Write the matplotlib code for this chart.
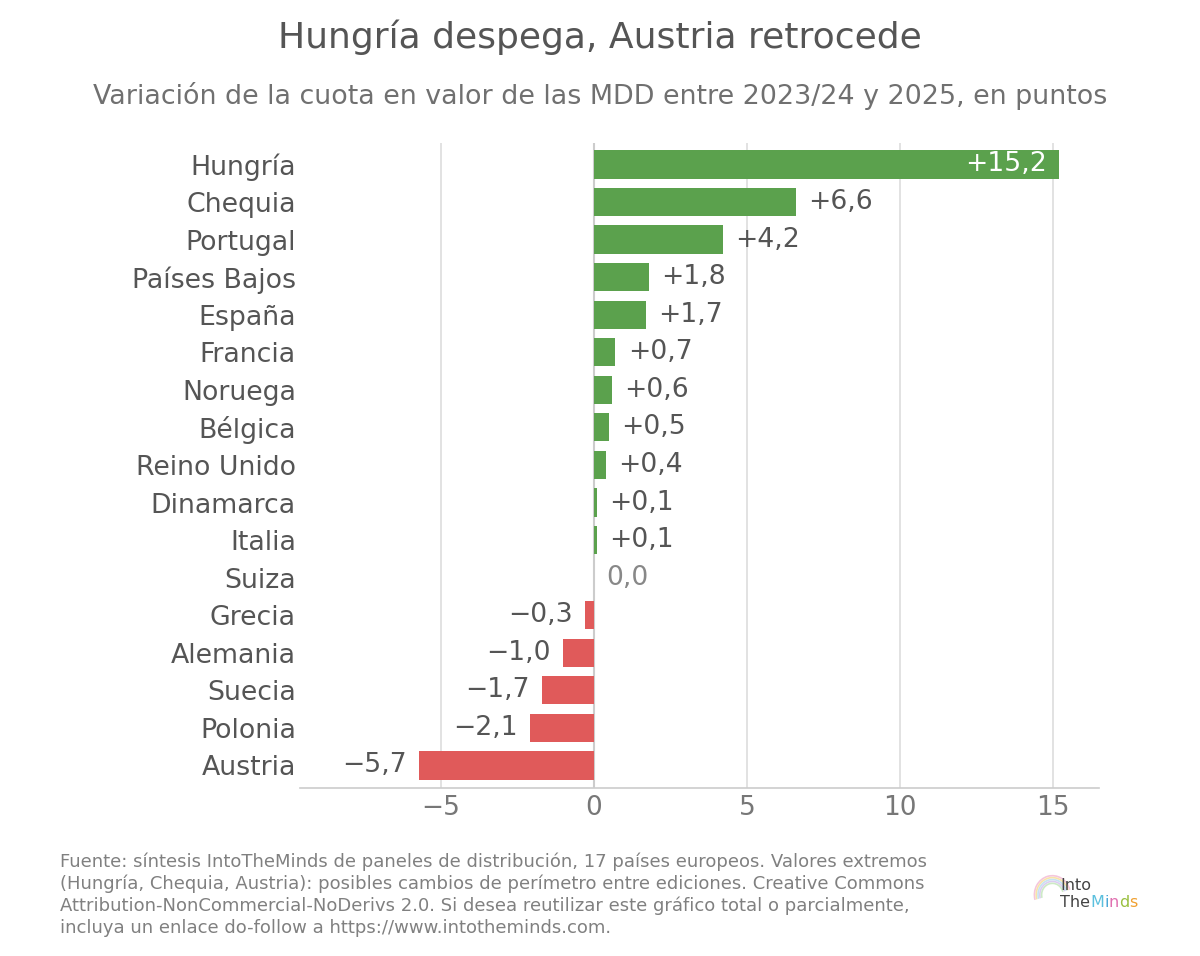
import matplotlib
matplotlib.use("Agg")
import matplotlib.pyplot as plt
from matplotlib.patches import Arc

countries = ["Hungría", "Chequia", "Portugal", "Países Bajos", "España", "Francia",
             "Noruega", "Bélgica", "Reino Unido", "Dinamarca", "Italia", "Suiza",
             "Grecia", "Alemania", "Suecia", "Polonia", "Austria"]
values = [15.2, 6.6, 4.2, 1.8, 1.7, 0.7, 0.6, 0.5, 0.4, 0.1, 0.1, 0.0,
          -0.3, -1.0, -1.7, -2.1, -5.7]
xticks = [-5, 0, 5, 10, 15]

GREEN = "#5ba14d"
RED = "#e05a5a"
TXT = "#555555"

plt.rcParams['font.family'] = ['DejaVu Sans']
fig = plt.figure(figsize=(12, 9.56), dpi=100)
ax = fig.add_axes([0.25, 0.1757, 0.666, 0.6743])

ys = list(range(len(countries)))
colors = [GREEN if v > 0 else (RED if v < 0 else "#999999") for v in values]
ax.barh(ys, values, height=0.75, color=colors, zorder=3)
ax.set_ylim(len(countries) - 0.4, -0.56)
ax.set_xlim(-9.6, 16.5)

ax.set_yticks(ys)
ax.set_yticklabels(countries, fontsize=19.3, color=TXT)
ax.set_xticks(xticks)
ax.set_xticklabels(["\u22125", "0", "5", "10", "15"], fontsize=19, color="#777777")
ax.tick_params(axis='y', length=0, pad=3)
ax.tick_params(axis='x', length=0, pad=5)

for s in ["top", "right", "left"]:
    ax.spines[s].set_visible(False)
ax.spines["bottom"].set_color("#cccccc")
ax.spines["bottom"].set_linewidth(1.2)

ax.grid(axis='x', color="#dddddd", linewidth=1.2, zorder=0)
ax.axvline(0, color="#cccccc", linewidth=1.5, zorder=2)

def fmt(v):
    s = f"{abs(v):.1f}".replace(".", ",")
    if v > 0:
        return "+" + s
    if v < 0:
        return "\u2212" + s
    return s

FS = 19.2
for y, v in zip(ys, values):
    if v >= 14:
        ax.text(v - 0.4, y, fmt(v), ha='right', va='center', fontsize=FS, color="white", zorder=4)
    elif v > 0:
        ax.text(v + 0.4, y, fmt(v), ha='left', va='center', fontsize=FS, color=TXT, zorder=4)
    elif v < 0:
        ax.text(v - 0.4, y, fmt(v), ha='right', va='center', fontsize=FS, color=TXT, zorder=4)
    else:
        ax.text(0.4, y, fmt(v), ha='left', va='center', fontsize=FS, color="#888888", zorder=4)

fig.text(0.5, 0.961, "Hungría despega, Austria retrocede", ha='center', va='center',
         fontsize=26, color=TXT)
fig.text(0.5, 0.9, "Variación de la cuota en valor de las MDD entre 2023/24 y 2025, en puntos",
         ha='center', va='center', fontsize=19.4, color="#707070")

footer = ("Fuente: síntesis IntoTheMinds de paneles de distribución, 17 países europeos. Valores extremos\n"
          "(Hungría, Chequia, Austria): posibles cambios de perímetro entre ediciones. Creative Commons\n"
          "Attribution-NonCommercial-NoDerivs 2.0. Si desea reutilizar este gráfico total o parcialmente,\n"
          "incluya un enlace do-follow a https://www.intotheminds.com.")
fig.text(0.05, 0.02, footer, ha='left', va='bottom', fontsize=13, color="#808080",
         linespacing=1.25)

# logo: faint brain arcs + text
for i, c in enumerate(["#f4c0d8", "#f8e0a0", "#c0e0f0", "#d8c8f0", "#c8e8c0"]):
    fig.patches.append(Arc((0.877, 0.064), 0.030 - i * 0.003, 0.040 - i * 0.004,
                           theta1=20, theta2=200, transform=fig.transFigure,
                           color=c, linewidth=1.2, alpha=0.9))
fig.text(0.8835, 0.0735, "Into", ha='left', va='center', fontsize=11.5, color="#444444")
parts = [("The", "#444444"), ("M", "#5bc0de"), ("i", "#4aa8d8"), ("n", "#e070b0"),
         ("d", "#9ac040"), ("s", "#f0a030")]
fig.canvas.draw()
rend = fig.canvas.get_renderer()
xpos = 0.8835
for t, c in parts:
    tt = fig.text(xpos, 0.0555, t, ha='left', va='center', fontsize=11.5, color=c)
    bb = tt.get_window_extent(renderer=rend)
    xpos += bb.width / fig.bbox.width

fig.savefig("out.png", dpi=100, facecolor="white")
